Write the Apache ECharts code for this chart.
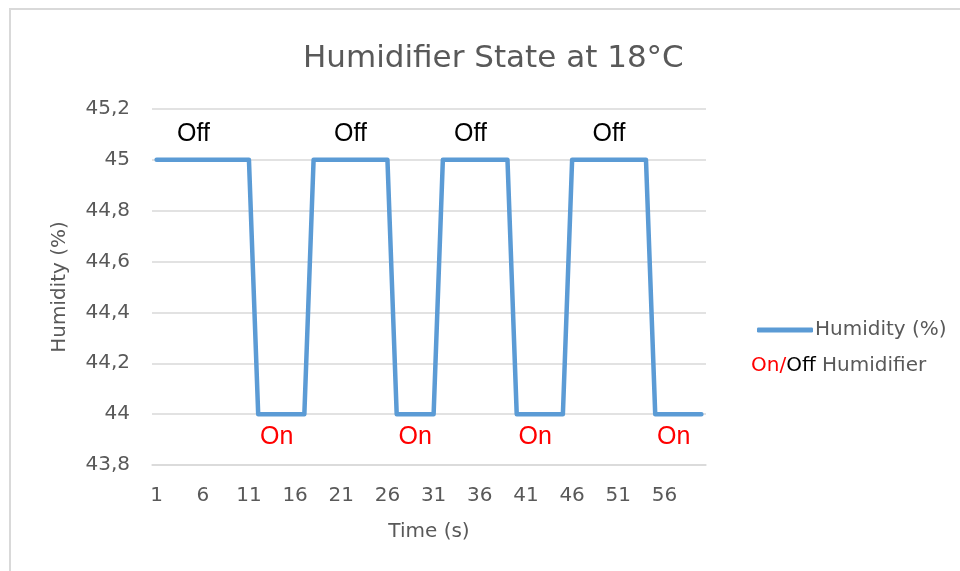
<!DOCTYPE html>
<html>
<head>
<meta charset="utf-8">
<script src="https://cdn.jsdelivr.net/npm/echarts@6/dist/echarts.min.js"></script>
<style>html,body{margin:0;padding:0;background:#fff}#c{width:960px;height:571px}</style>
</head>
<body>
<div id="c"></div>
<script>
// Time categories (s)
const timeCategories = [];
for (let t = 1; t <= 60; t++) timeCategories.push(String(t));
// Humidity (%) values
const humidity = [
  45,45,45,45,45,45,45,45,45,45,45,
  44,44,44,44,44,44,
  45,45,45,45,45,45,45,45,45,
  44,44,44,44,44,
  45,45,45,45,45,45,45,45,
  44,44,44,44,44,44,
  45,45,45,45,45,45,45,45,45,
  44,44,44,44,44,44
];
// State annotations: [category index, humidity anchor]
const offLabels = [[4, 45.1], [21, 45.1], [34, 45.1], [49, 45.1]];
const onLabels = [[13, 43.91], [28, 43.91], [41, 43.91], [56, 43.91]];
const yTicks = { min: 43.8, max: 45.2, step: 0.2 };

const chart = echarts.init(document.getElementById('c'));
const grayText = '#595959';
const fam = 'DejaVu Sans';
chart.setOption({
  backgroundColor: '#ffffff',
  animation: false,
  title: {
    text: 'Humidifier State at 18°C',
    left: 298, top: 38,
    textStyle: { color: grayText, fontFamily: fam, fontSize: 31, fontWeight: 'normal' }
  },
  grid: { left: 152, right: 254, top: 109, bottom: 106 },
  legend: {
    data: [{ name: 'Humidity (%)', icon: 'roundRect' }],
    left: 752, top: 315,
    itemWidth: 56, itemHeight: 5, itemGap: 0,
    textStyle: { color: grayText, fontFamily: fam, fontSize: 20, padding: [0, 0, 0, -3] }
  },
  xAxis: {
    type: 'category',
    data: timeCategories,
    boundaryGap: true,
    name: 'Time (s)', nameLocation: 'middle', nameGap: 57,
    nameTextStyle: { color: grayText, fontFamily: fam, fontSize: 20 },
    axisLine: { lineStyle: { color: '#d9d9d9', width: 1.5 } },
    axisTick: { show: false },
    axisLabel: { interval: 4, color: grayText, fontFamily: fam, fontSize: 20, margin: 21 },
    splitLine: { show: false }
  },
  yAxis: {
    type: 'value',
    min: yTicks.min, max: yTicks.max, interval: yTicks.step,
    name: 'Humidity (%)', nameLocation: 'middle', nameGap: 82,
    nameTextStyle: { color: grayText, fontFamily: fam, fontSize: 20 },
    axisLine: { show: false },
    axisTick: { show: false },
    axisLabel: {
      color: grayText, fontFamily: fam, fontSize: 20, margin: 22,
      formatter: v => String(Number(v.toFixed(1))).replace('.', ',')
    },
    splitLine: { lineStyle: { color: '#d9d9d9', width: 1.5 } }
  },
  series: [
    {
      name: 'Humidity (%)',
      type: 'line',
      data: humidity,
      symbol: 'none',
      lineStyle: { color: '#5b9bd5', width: 4.5, cap: 'round', join: 'round' },
      itemStyle: { color: '#5b9bd5' }
    },
    {
      name: 'Off',
      type: 'scatter',
      data: offLabels,
      symbolSize: 0,
      silent: true,
      itemStyle: { opacity: 1 },
      label: { show: true, position: 'inside', formatter: 'Off', color: '#000000', opacity: 1, fontFamily: 'Liberation Sans', fontSize: 25 }
    },
    {
      name: 'On',
      type: 'scatter',
      data: onLabels,
      symbolSize: 0,
      silent: true,
      itemStyle: { opacity: 1 },
      label: { show: true, position: 'inside', formatter: 'On', color: '#ff0000', opacity: 1, fontFamily: 'Liberation Sans', fontSize: 25 }
    }
  ],
  graphic: [
    {
      type: 'rect', silent: true,
      shape: { x: 10, y: 9, width: 1000, height: 600 },
      style: { fill: 'none', stroke: '#d9d9d9', lineWidth: 2 }
    },
    {
      type: 'text', left: 751, top: 356,
      style: {
        text: '{r|On/}{k|Off}{g| Humidifier}',
        rich: {
          r: { fill: '#ff0000', fontFamily: fam, fontSize: 20 },
          k: { fill: '#000000', fontFamily: fam, fontSize: 20 },
          g: { fill: grayText, fontFamily: fam, fontSize: 20 }
        }
      }
    }
  ]
});
</script>
</body>
</html>
